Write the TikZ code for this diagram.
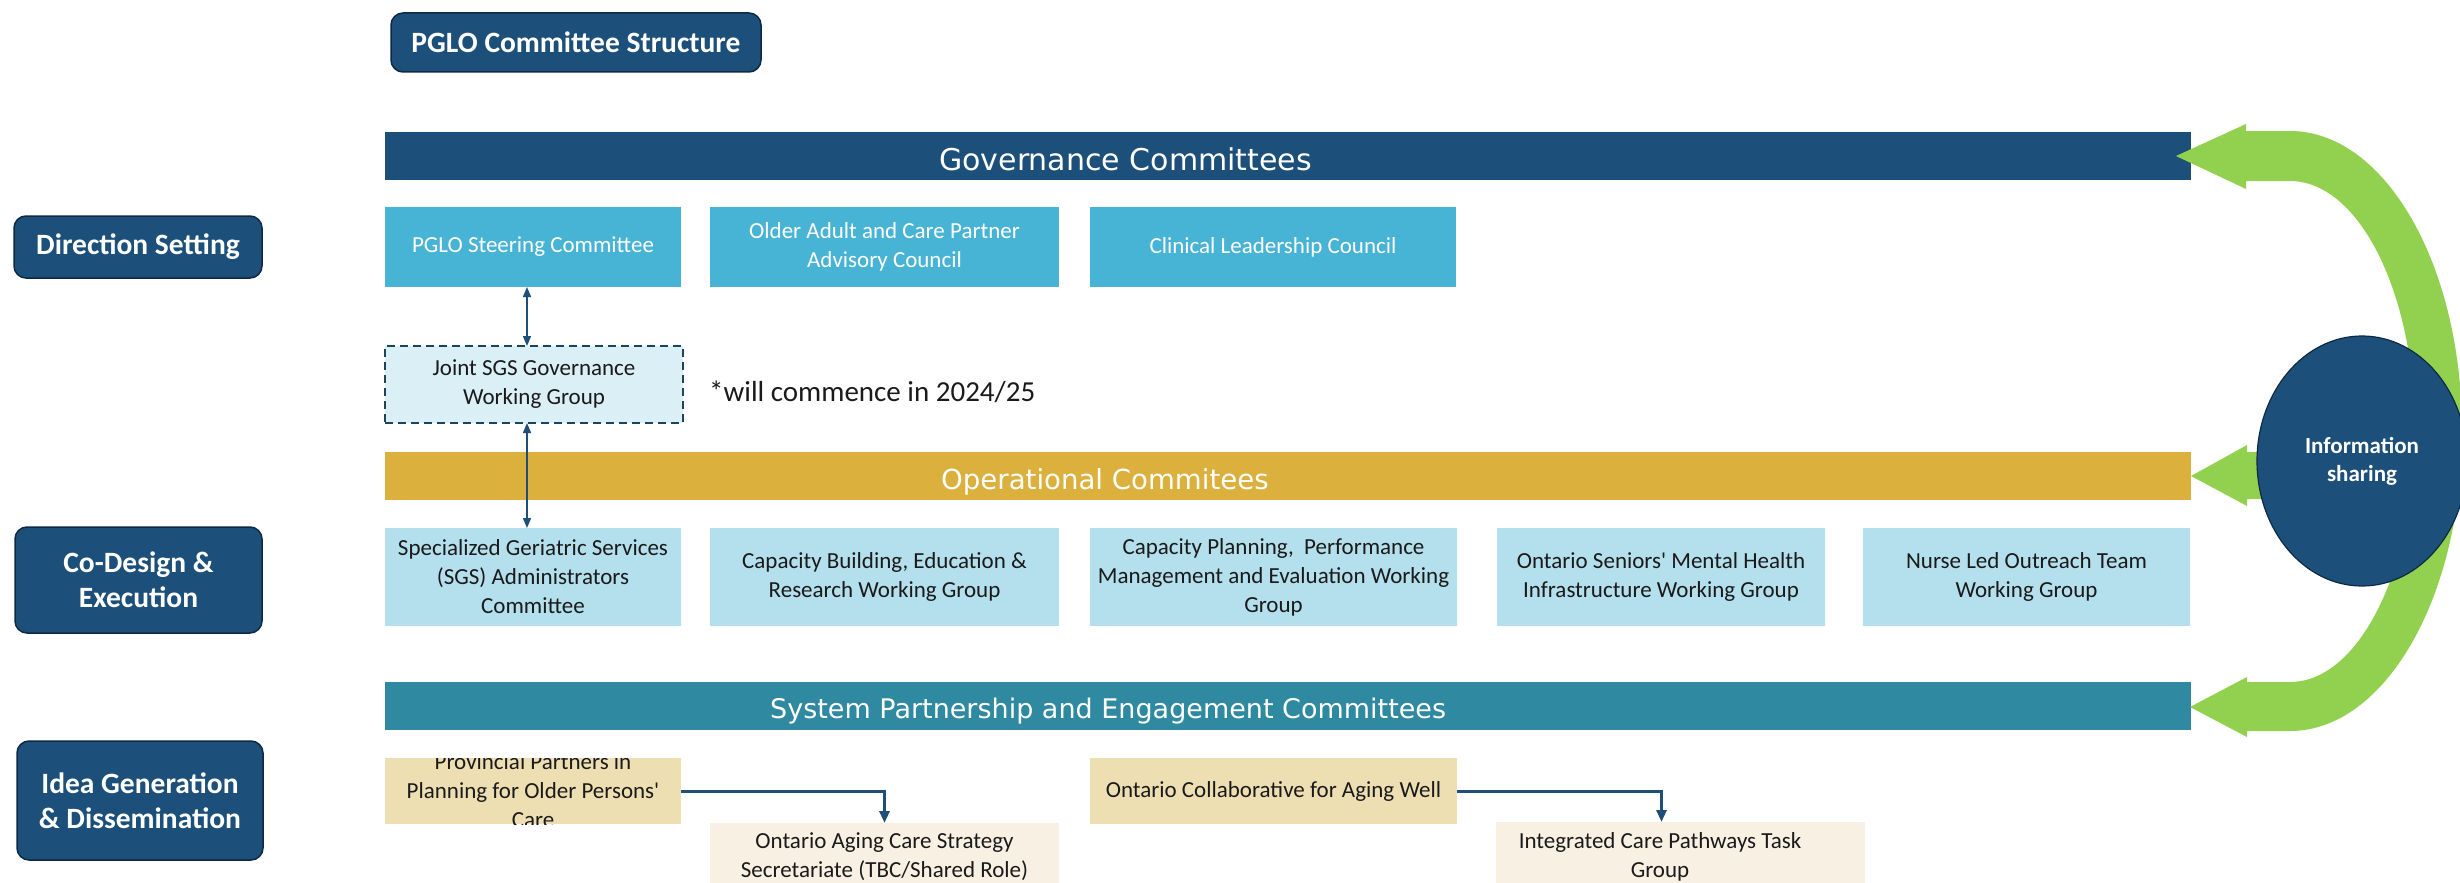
\documentclass[tikz,border=0pt]{standalone}
\usepackage{fontspec}
\setmainfont{Carlito}
\newfontfamily\barfont{DejaVu Sans}
\usetikzlibrary{shapes.geometric,arrows.meta,calc}

\definecolor{navy}{RGB}{28,79,122}
\definecolor{navyedge}{RGB}{14,42,66}
\definecolor{gold}{RGB}{220,176,61}
\definecolor{tealbar}{RGB}{46,137,161}
\definecolor{govblue}{RGB}{72,180,213}
\definecolor{opblue}{RGB}{180,223,236}
\definecolor{jointfill}{RGB}{219,239,246}
\definecolor{jointedge}{RGB}{28,69,87}
\definecolor{tan}{RGB}{238,223,179}
\definecolor{cream}{RGB}{248,241,227}
\definecolor{leaf}{RGB}{146,208,80}
\definecolor{linkblue}{RGB}{31,78,121}
\definecolor{ink}{RGB}{26,26,26}

\newcommand\bxfont{\fontsize{23}{29}\selectfont}
\newcommand\lbfont{\bfseries\fontsize{29.5}{35}\selectfont}

\begin{document}
\begin{tikzpicture}[x=1pt,y=-1pt,
  box/.style={anchor=north west, inner sep=0pt, outer sep=0pt, align=center, font=\bxfont},
  govbox/.style={box, fill=govblue, text=white},
  opbox/.style={box, fill=opblue, text=ink},
  tanbox/.style={box, fill=tan, text=ink},
  creambox/.style={box, fill=cream, text=ink},
  boxtext/.style={align=center, font=\bxfont, text=ink, inner sep=0pt},
  lab/.style={anchor=north west, inner sep=0pt, outer sep=0pt, align=center,
    rounded corners=12pt, fill=navy, draw=navyedge, line width=1.5pt,
    text=white, font=\lbfont},
  bar/.style={anchor=north west, inner sep=0pt, outer sep=0pt,
    minimum width=1806, minimum height=48},
  bartext/.style={inner sep=0pt, text=white, anchor=base west},
  thinlink/.style={draw=linkblue, line width=1.5pt,
    {Triangle[length=10pt,width=8pt]}-{Triangle[length=10pt,width=8pt]}},
  thicklink/.style={draw=linkblue, line width=3pt,
    -{Triangle[length=12pt,width=10pt]}}
]
\useasboundingbox (0,0) rectangle (2460,883);
\clip (0,0) rectangle (2460,883);

% tier labels on the left and the title
\node[lab, minimum width=370, minimum height=59] (title) at (391,13) {PGLO Committee Structure};
\node[lab, minimum width=248, minimum height=62] (dir) at (14,216) {Direction Setting};
\node[lab, minimum width=247, minimum height=106] (codes) at (15,527) {Co-Design \&\\Execution};
\node[lab, minimum width=246, minimum height=119] (idea) at (17,741) {Idea Generation\\\& Dissemination};

% committee bars
\node[bar, fill=navy] (gov) at (385,132) {};
\node[bar, fill=gold] (ops) at (385,452) {};
\node[bar, fill=tealbar] (sys) at (385,682) {};
\node[bartext, font=\barfont\fontsize{30}{36}\selectfont] (govtxt) at (939,170) {Governance Committees};
\node[bartext, font=\barfont\fontsize{27.6}{33}\selectfont] (opstxt) at (941,489) {Operational Commitees};
\node[bartext, font=\barfont\fontsize{27}{33}\selectfont] (systxt) at (770,718) {System Partnership and Engagement Committees};

% governance committees
\node[govbox, minimum width=296, minimum height=80] (steer) at (385,207) {PGLO Steering Committee};
\node[govbox, minimum width=349, minimum height=80] (older) at (710,207) {Older Adult and Care Partner\\Advisory Council};
\node[govbox, minimum width=366, minimum height=80] (clin) at (1090,207) {Clinical Leadership Council};

% planned working group
\node[box, fill=jointfill, draw=jointedge, line width=2.5pt, dash pattern=on 8pt off 5pt,
  text=ink, minimum width=298, minimum height=77] (joint) at (385,346) {Joint SGS Governance\\Working Group};
\node[inner sep=0pt, anchor=base west, text=ink, font=\fontsize{29}{34}\selectfont] (note) at (709,401) {*will commence in 2024/25};

% operational committees
\node[opbox, minimum width=296, minimum height=98] (sgs) at (385,528) {Specialized Geriatric Services\\(SGS) Administrators\\Committee};
\node[opbox, minimum width=349, minimum height=98] (capb) at (710,528) {Capacity Building, Education \&\\Research Working Group};
\node[opbox, minimum width=367, minimum height=98] (capp) at (1090,528) {Capacity Planning,\ \ Performance\\Management and Evaluation Working\\Group};
\node[opbox, minimum width=328, minimum height=98] (mh) at (1497,528) {Ontario Seniors\textquotesingle\ Mental Health\\Infrastructure Working Group};
\node[opbox, minimum width=327, minimum height=98] (nlot) at (1863,528) {Nurse Led Outreach Team\\Working Group};

% system partnership and engagement committees
\node[tanbox, minimum width=296, minimum height=66] (prov) at (385,758) {};
\begin{scope}
  \clip (prov.north west) rectangle (prov.south east);
  \node[boxtext] (provtxt) at (prov.center) {Provincial Partners in\\Planning for Older Persons\textquotesingle\\Care};
\end{scope}
\node[tanbox, minimum width=367, minimum height=66] (coll) at (1090,758) {Ontario Collaborative for Aging Well};
\node[creambox, minimum width=349, minimum height=68] (oacs) at (710,823) {Ontario Aging Care Strategy\\Secretariate (TBC/Shared Role)};
\node[creambox, minimum width=369, minimum height=69] (icp) at (1496,822) {};
\node[boxtext] (icptxt) at (1660,856.5) {Integrated Care Pathways Task\\Group};

% links between committees
\draw[thinlink] ([xshift=-6]steer.south) -- ([xshift=-7]joint.north);
\draw[thinlink] ([xshift=-7]joint.south) -- ([xshift=-6]sgs.north);
\draw[thicklink] (prov.east) -| (oacs.north);
\draw[thicklink] (coll.east) -| ([xshift=-19]icp.north);

% information sharing loop
\fill[leaf] (2176,156) -- (2246,124) -- (2246,131) -- (2290,131)
  .. controls (2385,131) and (2462,265) .. (2462,431)
  .. controls (2462,597) and (2385,731) .. (2290,731)
  -- (2247,731) -- (2247,737) -- (2190,707) -- (2247,677) -- (2247,682) -- (2290,682)
  .. controls (2359,682) and (2415,569) .. (2415,431)
  .. controls (2415,293) and (2359,181) .. (2290,181)
  -- (2246,181) -- (2246,189) -- cycle;
\fill[leaf] (2320,452) -- (2247,452) -- (2247,445) -- (2191,476) -- (2247,506) -- (2247,499) -- (2320,499) -- cycle;
\node[ellipse, fill=navy, draw=navyedge, line width=1.2pt, minimum width=210, minimum height=250,
  inner sep=0pt, text=white, align=center, font=\bfseries\fontsize{23}{28}\selectfont] (info) at (2362,461) {Information\\sharing};
\end{tikzpicture}
\end{document}
